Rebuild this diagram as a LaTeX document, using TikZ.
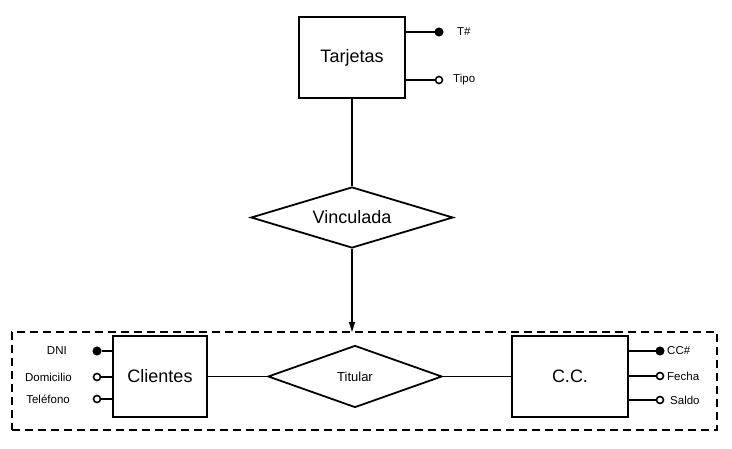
\documentclass[tikz,border=0pt]{standalone}
\usepackage{fontspec}
\setmainfont{Liberation Sans}
\usetikzlibrary{shapes.geometric,arrows.meta}
\begin{document}
\begin{tikzpicture}[x=1pt,y=-1pt,
  entidad/.style={rectangle, draw=black, line width=1.8pt, minimum height=81pt, inner sep=0pt, font=\fontsize{18}{20}\selectfont},
  relacion/.style={diamond, draw=black, line width=1.8pt, inner sep=0pt},
  clave/.style={circle, fill=black, draw=black, line width=1pt, minimum size=8pt, inner sep=0pt},
  atributo/.style={circle, fill=white, draw=black, line width=1.6pt, minimum size=7pt, inner sep=0pt},
  etiqueta/.style={inner sep=0pt, font=\fontsize{11.5}{13}\selectfont},
  linea/.style={draw=black, line width=1.8pt}]
\useasboundingbox (0,0) rectangle (732,449);
\node [rectangle, draw=black, line width=1.5pt, dash pattern=on 8pt off 5pt, minimum width=705pt, minimum height=98pt, outer sep=0pt] (agr) at (364.5,381) {};
\node [entidad, minimum width=106pt] (tar) at (352,57.5) {Tarjetas};
\node [relacion, aspect=3.3, minimum width=202pt, minimum height=61pt, font=\fontsize{18}{20}\selectfont] (vin) at (352,217.5) {Vinculada};
\node [entidad, minimum width=94pt] (cli) at (160,376.5) {Clientes};
\node [entidad, minimum width=116pt] (cc) at (570,376.5) {C.C.};
\node [relacion, aspect=2.8, minimum width=174pt, minimum height=62pt, font=\fontsize{13}{15}\selectfont] (tit) at (355,376.5) {Titular};
\node [clave] (t1) at (439,32) {};
\node [atributo] (t2) at (439,80) {};
\node [etiqueta, anchor=west] (lt1) at (457,32) {T\#};
\node [etiqueta, anchor=west] (lt2) at (453,80) {Tipo};
\node [clave] (c1) at (97,351) {};
\node [atributo] (c2) at (97,377) {};
\node [atributo] (c3) at (97,399) {};
\node [etiqueta, anchor=east] (lc1) at (67,351) {DNI};
\node [etiqueta, anchor=east] (lc2) at (72,377) {Domicilio};
\node [etiqueta, anchor=east] (lc3) at (70,399) {Teléfono};
\node [clave] (k1) at (660,351) {};
\node [atributo] (k2) at (660,376) {};
\node [atributo] (k3) at (660,400) {};
\node [etiqueta, anchor=west] (lk1) at (667,351) {CC\#};
\node [etiqueta, anchor=west] (lk2) at (667,376) {Fecha};
\node [etiqueta, anchor=west] (lk3) at (670,400) {Saldo};
\draw [linea] (tar.south) -- (vin.north);
\draw [linea, line width=1.5pt, -{Triangle[length=10pt,width=6pt]}] (vin.south) -- (vin.south |- agr.north);
\draw [linea] (cli.east) -- (tit.west);
\draw [linea] (tit.east) -- (cc.west);
\draw [linea] (t1 -| tar.east) -- (t1);
\draw [linea] (t2 -| tar.east) -- (t2);
\draw [linea] (c1) -- (c1 -| cli.west);
\draw [linea] (c2) -- (c2 -| cli.west);
\draw [linea] (c3) -- (c3 -| cli.west);
\draw [linea] (k1 -| cc.east) -- (k1);
\draw [linea] (k2 -| cc.east) -- (k2);
\draw [linea] (k3 -| cc.east) -- (k3);
\end{tikzpicture}
\end{document}
